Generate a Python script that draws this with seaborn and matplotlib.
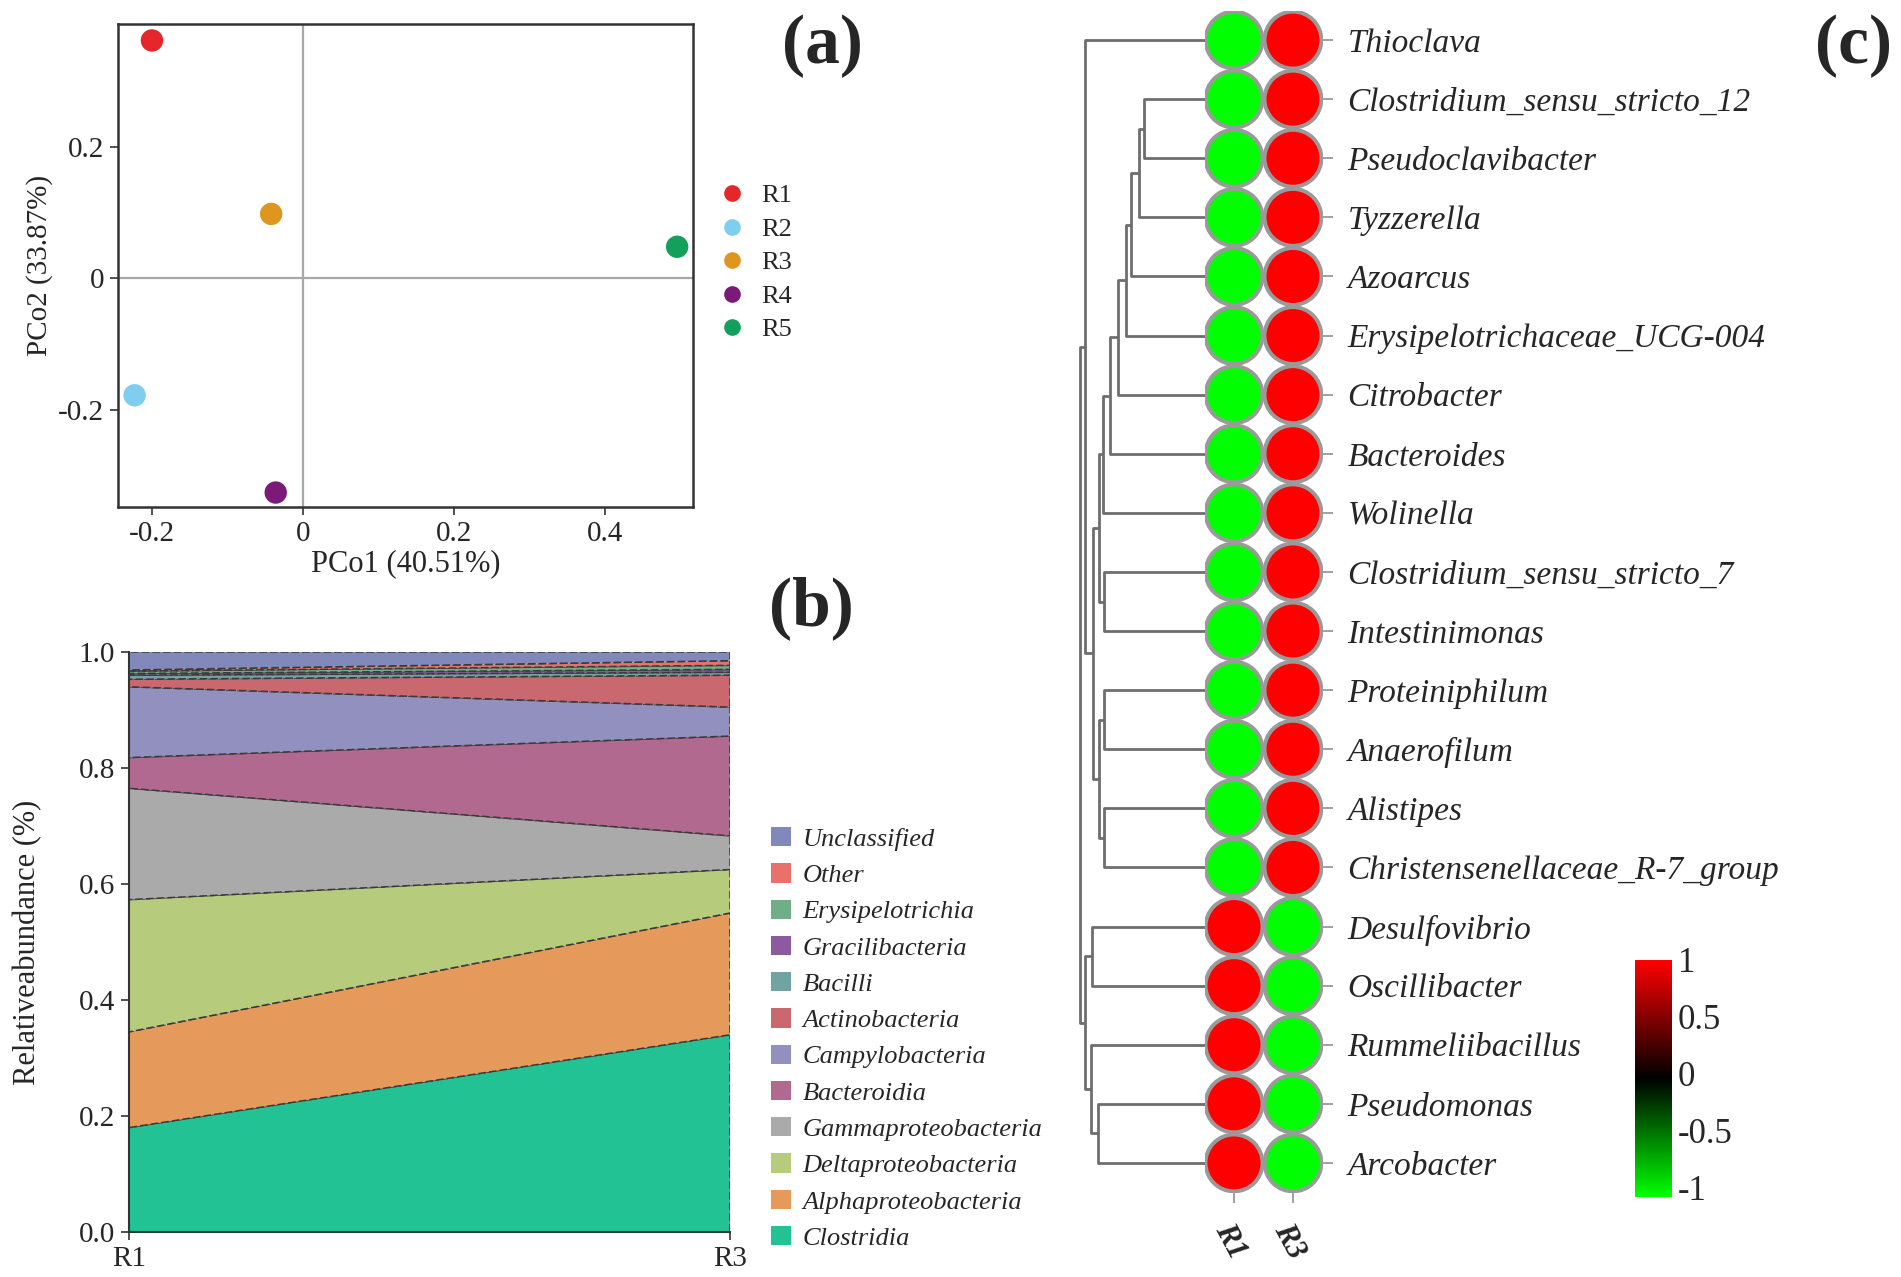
import matplotlib
matplotlib.use('Agg')
import numpy as np
import pandas as pd
import matplotlib.pyplot as plt
import seaborn as sns
from matplotlib.colors import LinearSegmentedColormap, Normalize
from matplotlib.cm import ScalarMappable
from matplotlib.patches import Patch

# ---- (a) PCoA ----
samples = ['R1', 'R2', 'R3', 'R4', 'R5']
pco1 = [-0.200, -0.223, -0.042, -0.036, 0.496]
pco2 = [0.362, -0.178, 0.098, -0.326, 0.048]
sample_colors = ['#E5262A', '#7FCEF0', '#DE961F', '#7B1A78', '#13A05C']
pco_xticks = [-0.2, 0, 0.2, 0.4]
pco_xlabels = ['-0.2', '0', '0.2', '0.4']
pco_yticks = [-0.2, 0, 0.2]
pco_ylabels = ['-0.2', '0', '0.2']

# ---- (b) class-level relative abundance ----
stack_samples = ['R1', 'R3']
classes = ['Clostridia', 'Alphaproteobacteria', 'Deltaproteobacteria',
           'Gammaproteobacteria', 'Bacteroidia', 'Campylobacteria',
           'Actinobacteria', 'Bacilli', 'Gracilibacteria', 'Erysipelotrichia',
           'Other', 'Unclassified']
abund_r1 = [0.180, 0.165, 0.228, 0.192, 0.053, 0.122, 0.013, 0.007, 0.003, 0.004, 0.002, 0.031]
abund_r3 = [0.340, 0.210, 0.075, 0.058, 0.172, 0.050, 0.055, 0.005, 0.005, 0.007, 0.008, 0.015]
class_colors = ['#22C295', '#E59A5B', '#B6CB7B', '#AAAAAA', '#B2698F', '#9190BE',
                '#C9686F', '#6FA4A2', '#8C5A9E', '#70AE87', '#E8716B', '#8189BA']
abund_ticks = [0.0, 0.2, 0.4, 0.6, 0.8, 1.0]

# ---- (c) genus z-score heatmap with dendrogram ----
genera = ['Thioclava', 'Clostridium_sensu_stricto_12', 'Pseudoclavibacter', 'Tyzzerella',
          'Azoarcus', 'Erysipelotrichaceae_UCG-004', 'Citrobacter', 'Bacteroides',
          'Wolinella', 'Clostridium_sensu_stricto_7', 'Intestinimonas', 'Proteiniphilum',
          'Anaerofilum', 'Alistipes', 'Christensenellaceae_R-7_group', 'Desulfovibrio',
          'Oscillibacter', 'Rummeliibacillus', 'Pseudomonas', 'Arcobacter']
z_r1 = [-1, -1, -1, -1, -1, -1, -1, -1, -1, -1, -1, -1, -1, -1, -1, 1, 1, 1, 1, 1]
z_r3 = [1, 1, 1, 1, 1, 1, 1, 1, 1, 1, 1, 1, 1, 1, 1, -1, -1, -1, -1, -1]
# linkage rows: (child a, child b, height); leaves are 0..19, new nodes 20..
merges = [(1, 2, 0.58), (20, 3, 0.63), (21, 4, 0.70), (22, 5, 0.75), (23, 6, 0.82),
          (24, 7, 0.90), (25, 8, 0.96), (9, 10, 0.95), (26, 27, 1.00), (11, 12, 0.95),
          (13, 14, 0.95), (29, 30, 1.00), (28, 31, 1.06), (0, 32, 1.13), (15, 16, 1.07),
          (18, 19, 1.01), (17, 35, 1.08), (34, 36, 1.13), (33, 37, 1.18)]
cbar_ticks = [-1, -0.5, 0, 0.5, 1]
cbar_labels = ['-1', '-0.5', '0', '0.5', '1']

sns.set_theme(style='ticks')
plt.rcParams['font.family'] = ['Liberation Serif', 'DejaVu Serif']
plt.rcParams['axes.unicode_minus'] = False

W, H = 1901, 1277
fig = plt.figure(figsize=(W / 100, H / 100), dpi=100)


def box(l, t, r, b):
    return [l / W, 1 - b / H, (r - l) / W, (b - t) / H]


# ---------------- (a) ----------------
ax_a = fig.add_axes(box(118, 24, 693, 507))
pcoa = pd.DataFrame({'sample': samples, 'PCo1': pco1, 'PCo2': pco2})
ax_a.axhline(0, color='#a8a8a8', lw=1.6, zorder=0)
ax_a.axvline(0, color='#a8a8a8', lw=1.6, zorder=0)
sns.scatterplot(data=pcoa, x='PCo1', y='PCo2', hue='sample', palette=sample_colors,
                s=260, edgecolor='none', ax=ax_a, zorder=3)
ax_a.set_xlim(-0.245, 0.517)
ax_a.set_ylim(-0.348, 0.387)
ax_a.set_xticks(pco_xticks)
ax_a.set_xticklabels(pco_xlabels)
ax_a.set_yticks(pco_yticks)
ax_a.set_yticklabels(pco_ylabels)
ax_a.tick_params(labelsize=21, length=6, width=1.2, color='#333333', pad=4)
ax_a.set_xlabel('PCo1 (40.51%)', fontsize=22, labelpad=2)
ax_a.set_ylabel('PCo2 (33.87%)', fontsize=21, labelpad=4)
for sp in ax_a.spines.values():
    sp.set_color('#333333')
    sp.set_linewidth(1.8)
handles, labels = ax_a.get_legend_handles_labels()
for h in handles:
    h.set_markersize(12)
ax_a.legend(handles, labels, loc='upper left', bbox_to_anchor=(706 / W, 1 - 184 / H),
            bbox_transform=fig.transFigure, frameon=False, fontsize=19,
            handletextpad=0.1, labelspacing=0.38, borderaxespad=0, borderpad=0)
fig.text(822 / W, 1 - 46 / H, '(a)', fontsize=50, fontweight='bold', ha='center', va='center')

# ---------------- (b) ----------------
ax_b = fig.add_axes(box(129, 652, 730, 1232))
xs = np.arange(len(stack_samples))
layers = [[r1, r3] for r1, r3 in zip(abund_r1, abund_r3)]
ax_b.stackplot(xs, layers, colors=class_colors, edgecolor='#3a3a3a',
               linewidth=1.1, linestyle=(0, (5, 2)))
ax_b.set_xlim(0, 1)
ax_b.set_ylim(0, 1)
ax_b.set_xticks(xs)
ax_b.set_xticklabels(stack_samples)
ax_b.set_yticks(abund_ticks)
ax_b.set_yticklabels([f'{t:.1f}' for t in abund_ticks])
ax_b.tick_params(labelsize=21, length=6, width=1.2, color='#333333', pad=4)
ax_b.set_ylabel('Relativeabundance (%)', fontsize=22, labelpad=26)
sns.despine(ax=ax_b)
for sp in ['left', 'bottom']:
    ax_b.spines[sp].set_color('#333333')
    ax_b.spines[sp].set_linewidth(1.5)
leg_handles = [Patch(facecolor=c, edgecolor='none') for c in class_colors][::-1]
ax_b.legend(leg_handles, classes[::-1], loc='upper left', bbox_to_anchor=(771 / W, 1 - 827 / H),
            bbox_transform=fig.transFigure, frameon=False,
            prop={'style': 'italic', 'size': 19}, handlelength=0.75, handleheight=0.75,
            handletextpad=0.45, labelspacing=0.47, borderaxespad=0, borderpad=0)
fig.text(811 / W, 1 - 608 / H, '(b)', fontsize=50, fontweight='bold', ha='center', va='center')

# ---------------- (c) ----------------
top_c, bot_c = 10.5, 1192.5
ax_d = fig.add_axes(box(1067, top_c, 1206, bot_c))
n_leaf = len(genera)
ypos = {i: float(i) for i in range(n_leaf)}
hgt = {i: 0.0 for i in range(n_leaf)}
for k, (a, b, h) in enumerate(merges):
    ax_d.plot([hgt[a], h, h, hgt[b]], [ypos[a], ypos[a], ypos[b], ypos[b]],
              color='#6e6e6e', lw=2.0, solid_capstyle='butt')
    ypos[n_leaf + k] = (ypos[a] + ypos[b]) / 2
    hgt[n_leaf + k] = h
ax_d.set_xlim(1.30, 0)
ax_d.set_ylim(n_leaf - 0.5, -0.5)
ax_d.axis('off')

ax_c = fig.add_axes(box(1204.5, top_c, 1322.5, bot_c))
ax_c.set_facecolor('none')
zdf = pd.DataFrame({'genus': genera, 'R1': z_r1, 'R3': z_r3})
zlong = zdf.melt(id_vars='genus', var_name='sample', value_name='z')
cmap = LinearSegmentedColormap.from_list('gkr', ['#00FF00', '#000000', '#FF0000'])
sns.scatterplot(data=zlong, x='sample', y='genus', hue='z', palette=cmap, hue_norm=(-1, 1),
                s=1680, edgecolor='#9a9a9a', linewidth=2.8, legend=False, ax=ax_c, zorder=3)
ax_c.set_xlim(-0.5, 1.5)
ax_c.set_ylim(n_leaf - 0.5, -0.5)
ax_c.set_xlabel('')
ax_c.set_ylabel('')
for sp in ax_c.spines.values():
    sp.set_visible(False)
ax_c.yaxis.tick_right()
ax_c.set_yticks(range(n_leaf))
ax_c.set_yticklabels(genera, fontstyle='italic', fontsize=24)
ax_c.tick_params(axis='y', length=7, width=1.3, color='#9a9a9a', pad=11)
ax_c.set_xticks([0, 1])
ax_c.set_xticklabels(['R1', 'R3'], fontsize=22, fontweight='bold', fontstyle='italic',
                     rotation=-62, ha='left', rotation_mode='anchor')
ax_c.tick_params(axis='x', length=7, width=1.3, color='#9a9a9a', pad=12)

cax = fig.add_axes(box(1635, 960, 1672, 1197))
cb = fig.colorbar(ScalarMappable(norm=Normalize(-1.08, 1), cmap=cmap), cax=cax)
cb.outline.set_visible(False)
cb.set_ticks(cbar_ticks)
cb.set_ticklabels(cbar_labels)
cax.tick_params(direction='in', color='white', length=5, width=1.5, left=True, right=True,
                labelsize=25, pad=4)
fig.text(1853 / W, 1 - 46 / H, '(c)', fontsize=50, fontweight='bold', ha='center', va='center')

fig.savefig('out.png', dpi=100)
